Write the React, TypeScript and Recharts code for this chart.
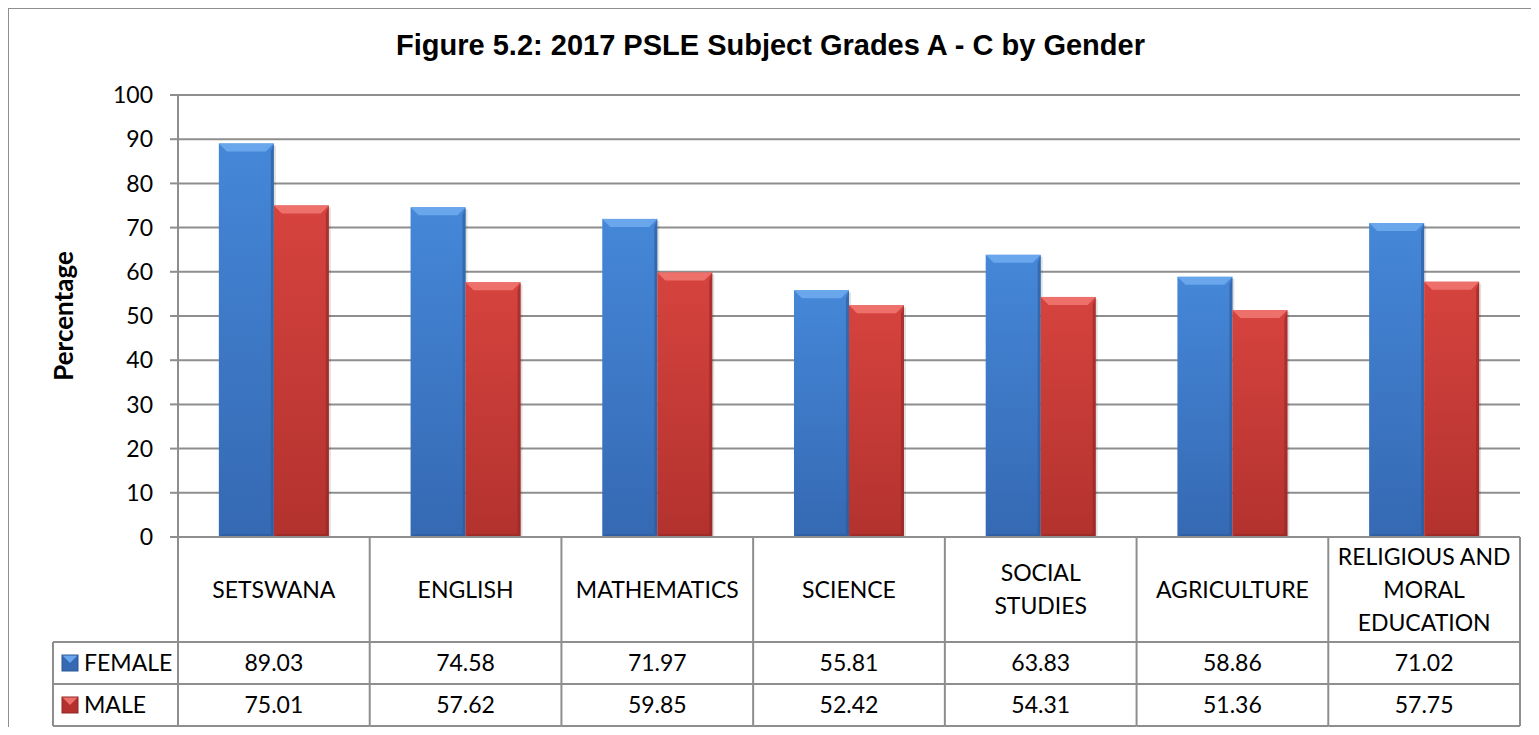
import React from 'react';
import {BarChart, Bar, XAxis, YAxis, CartesianGrid} from 'recharts';

const subjects = [
  'SETSWANA',
  'ENGLISH',
  'MATHEMATICS',
  'SCIENCE',
  'SOCIAL STUDIES',
  'AGRICULTURE',
  'RELIGIOUS AND MORAL EDUCATION',
];
// wrapped header labels as in the data table
const subjectLines = [
  ['SETSWANA'],
  ['ENGLISH'],
  ['MATHEMATICS'],
  ['SCIENCE'],
  ['SOCIAL', 'STUDIES'],
  ['AGRICULTURE'],
  ['RELIGIOUS AND', 'MORAL', 'EDUCATION'],
];
const female = [89.03, 74.58, 71.97, 55.81, 63.83, 58.86, 71.02];
const male = [75.01, 57.62, 59.85, 52.42, 54.31, 51.36, 57.75];
const yTicks = [0, 10, 20, 30, 40, 50, 60, 70, 80, 90, 100];

const data = subjects.map((s, i) => ({
  name: s,
  lines: subjectLines[i],
  female: female[i],
  male: male[i],
}));

const W = 1539;
const H = 735;
const PLOT_LEFT = 178;
const PLOT_RIGHT = 1520;
const PLOT_TOP = 95;
const PLOT_BOTTOM = 537;
const BAND = (PLOT_RIGHT - PLOT_LEFT) / subjects.length;
const HEADER_H = 105;
const ROW_H = 42;
const LEGEND_LEFT = 53;
const GRID = '#8e8e8e';
const FONT = 'Lato, "Open Sans", sans-serif';

const colors = {
  female: {top: '#69a6ec', light: '#4587d8', dark: '#3569b3', edge: '#2b5896'},
  male: {top: '#ee706b', light: '#d6433e', dark: '#b3322e', edge: '#8f2724'},
};

function BevelBar(props: any) {
  const {x, y, width, height, kind} = props;
  if (!height || height <= 0) return null;
  const c = colors[kind as 'female' | 'male'];
  const b = 8;
  const id = 'grad-' + kind;
  return (
    <g>
      <defs>
        <linearGradient id={id} x1="0" y1="0" x2="0" y2="1">
          <stop offset="0%" stopColor={c.light} />
          <stop offset="100%" stopColor={c.dark} />
        </linearGradient>
      </defs>
      <rect x={x + 2} y={y + 2} width={width} height={height - 1} fill="#000" opacity={0.12} />
      <rect x={x} y={y} width={width} height={height} fill={`url(#${id})`} />
      <polygon
        points={`${x},${y} ${x + width},${y} ${x + width - b},${y + b} ${x + b},${y + b}`}
        fill={c.top}
      />
      <polygon
        points={`${x + width},${y} ${x + width},${y + height} ${x + width - 3},${y + height - 3} ${x + width - 3},${y + b}`}
        fill={c.edge}
        opacity={0.6}
      />
      <polygon
        points={`${x},${y + height} ${x + width},${y + height} ${x + width - 3},${y + height - 3} ${x + 3},${y + height - 3}`}
        fill={c.edge}
        opacity={0.6}
      />
    </g>
  );
}

function LegendKey({x, y, kind}: {x: number; y: number; kind: 'female' | 'male'}) {
  const c = colors[kind];
  const s = 16;
  return (
    <g>
      <rect x={x} y={y} width={s} height={s} fill={c.dark} />
      <polygon points={`${x},${y} ${x + s},${y} ${x + s / 2},${y + s / 2}`} fill={c.top} />
      <rect x={x} y={y} width={s} height={s} fill="none" stroke={c.edge} strokeWidth={1} />
    </g>
  );
}

function TableTick(props: any) {
  const {x, y, payload, index} = props;
  const d = data[index];
  const left = x - BAND / 2;
  const right = x + BAND / 2;
  const r1 = y + HEADER_H;
  const r2 = r1 + ROW_H;
  const r3 = r2 + ROW_H;
  const lines: string[] = d ? d.lines : [payload.value];
  const lh = 33;
  const startY = y + HEADER_H / 2 - ((lines.length - 1) * lh) / 2;
  const txt = {fontFamily: FONT, fontSize: 23, fill: '#000', textAnchor: 'middle' as const};
  return (
    <g>
      <line x1={right} y1={y} x2={right} y2={r3} stroke={GRID} strokeWidth={2} />
      <line x1={left} y1={r1} x2={right} y2={r1} stroke={GRID} strokeWidth={2} />
      <line x1={left} y1={r2} x2={right} y2={r2} stroke={GRID} strokeWidth={2} />
      <line x1={left} y1={r3} x2={right} y2={r3} stroke={GRID} strokeWidth={2} />
      {lines.map((l, i) => (
        <text key={i} x={x} y={startY + i * lh} dy="0.35em" {...txt}>
          {l}
        </text>
      ))}
      <text x={x} y={r1 + ROW_H / 2} dy="0.35em" {...txt}>
        {d.female.toFixed(2)}
      </text>
      <text x={x} y={r2 + ROW_H / 2} dy="0.35em" {...txt}>
        {d.male.toFixed(2)}
      </text>
      {index === 0 && (
        <g>
          <line x1={left} y1={y} x2={left} y2={r3} stroke={GRID} strokeWidth={2} />
          <line x1={LEGEND_LEFT} y1={r1} x2={left} y2={r1} stroke={GRID} strokeWidth={2} />
          <line x1={LEGEND_LEFT} y1={r2} x2={left} y2={r2} stroke={GRID} strokeWidth={2} />
          <line x1={LEGEND_LEFT} y1={r3} x2={left} y2={r3} stroke={GRID} strokeWidth={2} />
          <line x1={LEGEND_LEFT} y1={r1} x2={LEGEND_LEFT} y2={r3} stroke={GRID} strokeWidth={2} />
          <LegendKey x={LEGEND_LEFT + 9} y={r1 + ROW_H / 2 - 8} kind="female" />
          <LegendKey x={LEGEND_LEFT + 9} y={r2 + ROW_H / 2 - 8} kind="male" />
          <text x={LEGEND_LEFT + 31} y={r1 + ROW_H / 2} dy="0.35em" fontFamily={FONT} fontSize={23}>
            FEMALE
          </text>
          <text x={LEGEND_LEFT + 31} y={r2 + ROW_H / 2} dy="0.35em" fontFamily={FONT} fontSize={23}>
            MALE
          </text>
        </g>
      )}
    </g>
  );
}

export default function App() {
  return (
    <div style={{position: 'relative', margin: -8, width: W, height: H, overflow: 'hidden', background: '#fff'}}>
      <div
        style={{
          position: 'absolute',
          left: 7,
          top: 7,
          width: W,
          height: H,
          border: '2px solid #8e8e8e',
          boxSizing: 'border-box',
        }}
      />
      <div
        style={{
          position: 'absolute',
          left: 0,
          width: W,
          top: 29,
          textAlign: 'center',
          fontFamily: '"Liberation Sans", Arial, sans-serif',
          fontWeight: 'bold',
          fontSize: 29,
          paddingLeft: 1,
        }}
      >
        Figure 5.2: 2017 PSLE Subject Grades A - C by Gender
      </div>
      <div style={{position: 'absolute', left: 0, top: 0}}>
        <BarChart
          width={W}
          height={H}
          data={data}
          margin={{top: PLOT_TOP, right: W - PLOT_RIGHT, left: 0, bottom: H - PLOT_BOTTOM - 188}}
          barCategoryGap="21.3%"
          barGap={0}
        >
          <CartesianGrid vertical={false} stroke={GRID} strokeWidth={2} />
          <XAxis
            dataKey="name"
            height={188}
            axisLine={{stroke: GRID, strokeWidth: 2}}
            tickLine={false}
            tickSize={0}
            tickMargin={0}
            interval={0}
            tick={<TableTick />}
          />
          <YAxis
            width={PLOT_LEFT}
            domain={[0, 100]}
            ticks={yTicks}
            interval={0}
            axisLine={{stroke: GRID, strokeWidth: 2}}
            tickLine={{stroke: GRID, strokeWidth: 2}}
            tickSize={8}
            tickMargin={17}
            tick={{fontFamily: FONT, fontSize: 23, fill: '#000'}}
            label={{
              value: 'Percentage',
              angle: -90,
              position: 'insideLeft',
              offset: 64,
              style: {fontFamily: FONT, fontSize: 26, fontWeight: 'bold', fill: '#000', textAnchor: 'middle'},
            }}
          />
          <Bar dataKey="female" isAnimationActive={false} shape={<BevelBar kind="female" />} />
          <Bar dataKey="male" isAnimationActive={false} shape={<BevelBar kind="male" />} />
        </BarChart>
      </div>
    </div>
  );
}
